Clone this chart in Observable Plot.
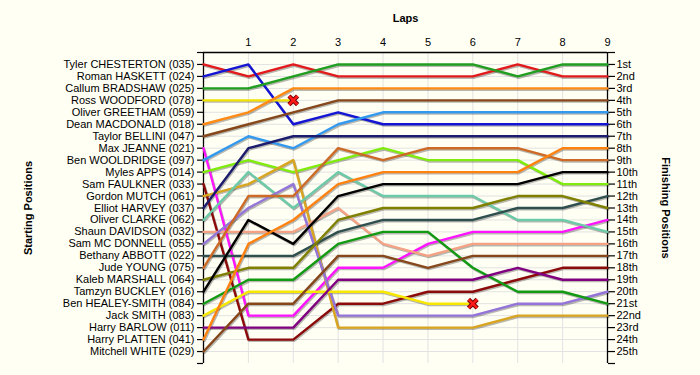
<!DOCTYPE html>
<html>
<head>
<meta charset="utf-8">
<script src="https://cdn.jsdelivr.net/npm/d3@7"></script>
<script src="https://cdn.jsdelivr.net/npm/@observablehq/plot@0.6"></script>
<style>
  html, body { margin: 0; padding: 0; background: #fffff4; }
  #chart svg { display: block; }
</style>
</head>
<body>
<div id="chart"></div>
<script>
const laps = [0, 1, 2, 3, 4, 5, 6, 7, 8, 9];

const drivers = [
  "Tyler CHESTERTON (035)", "Roman HASKETT (024)", "Callum BRADSHAW (025)",
  "Ross WOODFORD (078)", "Oliver GREETHAM (059)", "Dean MACDONALD (018)",
  "Taylor BELLINI (047)", "Max JEANNE (021)", "Ben WOOLDRIDGE (097)",
  "Myles APPS (014)", "Sam FAULKNER (033)", "Gordon MUTCH (061)",
  "Elliot HARVEY (037)", "Oliver CLARKE (062)", "Shaun DAVIDSON (032)",
  "Sam MC DONNELL (055)", "Bethany ABBOTT (022)", "Jude YOUNG (075)",
  "Kaleb MARSHALL (064)", "Tamzyn BUCKLEY (016)", "Ben HEALEY-SMITH (084)",
  "Jack SMITH (083)", "Harry BARLOW (011)", "Harry PLATTEN (041)",
  "Mitchell WHITE (029)"
];

const finishLabels = [
  "1st", "2nd", "3rd", "4th", "5th", "6th", "7th", "8th", "9th", "10th",
  "11th", "12th", "13th", "14th", "15th", "16th", "17th", "18th", "19th", "20th",
  "21st", "22nd", "23rd", "24th", "25th"
];

// position of each driver at each lap (0..9); shorter arrays = retired, empty = did not start
const positions = [
  [1, 2, 1, 2, 2, 2, 2, 1, 2, 2],
  [2, 1, 6, 5, 6, 6, 6, 6, 6, 6],
  [3, 3, 2, 1, 1, 1, 1, 2, 1, 1],
  [4, 4, 4],
  [],
  [6, 5, 3, 3, 3, 3, 3, 3, 3, 3],
  [7, 6, 5, 4, 4, 4, 4, 4, 4, 4],
  [8, 22, 22, 18, 18, 16, 15, 15, 15, 14],
  [9, 7, 8, 6, 5, 5, 5, 5, 5, 5],
  [10, 9, 10, 9, 8, 9, 9, 9, 11, 11],
  [11, 24, 24, 21, 21, 20, 20, 19, 18, 18],
  [12, 11, 9, 23, 23, 23, 23, 22, 22, 22],
  [13, 8, 7, 7, 7, 7, 7, 7, 7, 7],
  [14, 10, 13, 10, 12, 12, 12, 14, 14, 15],
  [15, 15, 15, 13, 16, 17, 16, 16, 16, 16],
  [16, 13, 11, 22, 22, 22, 22, 21, 21, 20],
  [17, 17, 17, 15, 14, 14, 14, 13, 13, 12],
  [18, 12, 12, 8, 9, 8, 8, 8, 9, 9],
  [19, 18, 18, 14, 13, 13, 13, 12, 12, 13],
  [20, 14, 16, 12, 11, 11, 11, 11, 10, 10],
  [21, 19, 19, 16, 15, 15, 18, 20, 20, 21],
  [22, 20, 20, 20, 20, 21, 21],
  [23, 23, 23, 19, 19, 19, 19, 18, 19, 19],
  [24, 16, 14, 11, 10, 10, 10, 10, 8, 8],
  [25, 21, 21, 17, 17, 18, 17, 17, 17, 17]
];

const colors = [
  "#e31a1c", "#1414d4", "#1f9e1f", "#f2e200", "#999999", "#ff8a14",
  "#86471a", "#ff14ff", "#3399ee", "#80ec0c", "#8b0a0a", "#d9a520",
  "#1c1c6e", "#6ccaa8", "#f4a283", "#9474d8", "#2f4f4f", "#cc6a26",
  "#7f7f00", "#000000", "#129a12", "#f8e800", "#800080", "#ff8210",
  "#86471a"
];

// Build table
const rows = [];
positions.forEach((p, i) => {
  p.forEach((pos, j) => rows.push({driver: i, lap: laps[j], pos, color: colors[i]}));
});
const retired = positions
  .map((p, i) => ({p, i}))
  .filter(d => d.p.length > 0 && d.p.length < laps.length)
  .map(d => ({lap: laps[d.p.length - 1], pos: d.p[d.p.length - 1]}));

const yTicks = d3.range(0, drivers.length + 2);
const gridY = d3.range(1, drivers.length + 1);
const font = "'Liberation Sans', Arial, sans-serif";

const chart = Plot.plot({
  width: 700,
  height: 375,
  marginLeft: 203,
  marginRight: 93,
  marginTop: 52,
  marginBottom: 12,
  style: {background: "#fffff4", fontFamily: font, fontSize: "11px", color: "#000"},
  x: {domain: [0, 9]},
  y: {domain: [0, drivers.length + 1], reverse: true},
  color: {type: "identity"},
  marks: [
    Plot.gridX(laps.slice(1, -1), {stroke: "#e2e2e2", strokeOpacity: 1, strokeWidth: 1}),
    Plot.gridY(gridY, {stroke: "#e2e2e2", strokeOpacity: 1, strokeWidth: 1}),
    Plot.ruleX([laps[0], laps[laps.length - 1]], {stroke: "#000", strokeWidth: 1.3}),
    Plot.ruleY([0], {stroke: "#000", strokeWidth: 1.3}),
    Plot.axisX({anchor: "top", ticks: laps.slice(1), tickSize: 0, tickPadding: 7, label: null, fontSize: 11}),
    Plot.axisY({anchor: "left", ticks: yTicks, tickSize: 6, tickPadding: 3, label: null,
      tickFormat: d => drivers[d - 1] ?? "", fontSize: 11, strokeWidth: 1.2}),
    Plot.axisY({anchor: "right", ticks: yTicks, tickSize: 7, tickPadding: 2, label: null,
      tickFormat: d => finishLabels[d - 1] ?? "", fontSize: 11, strokeWidth: 1.2}),
    Plot.line(rows, {x: "lap", y: "pos", z: "driver", stroke: "#000", strokeOpacity: 0.28,
      strokeWidth: 2.4, dx: 1, dy: 1.3, curve: "linear"}),
    Plot.line(rows, {x: "lap", y: "pos", z: "driver", stroke: "color", strokeWidth: 2.4, curve: "linear"}),
    Plot.dot(retired, {x: "lap", y: "pos", symbol: "times", r: 4, stroke: "#7a0000", strokeWidth: 4.5}),
    Plot.dot(retired, {x: "lap", y: "pos", symbol: "times", r: 4, stroke: "#ff1a1a", strokeWidth: 2.4}),
    Plot.text(["Laps"], {text: d => d, frameAnchor: "top", lineAnchor: "middle", dy: -34,
      fontWeight: "bold", fontSize: 11}),
    Plot.text(["Starting Positions"], {text: d => d, frameAnchor: "left", textAnchor: "middle",
      lineAnchor: "middle", dx: -175, rotate: -90, fontWeight: "bold", fontSize: 11}),
    Plot.text(["Finishing Positions"], {text: d => d, frameAnchor: "right", textAnchor: "middle",
      lineAnchor: "middle", dx: 58, rotate: 90, fontWeight: "bold", fontSize: 11})
  ]
});
document.getElementById("chart").appendChild(chart);
</script>
</body>
</html>
